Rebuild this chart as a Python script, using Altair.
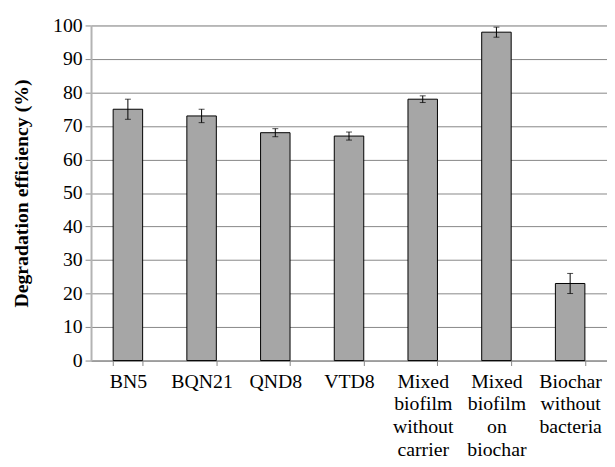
import altair as alt
import pandas as pd

categories = ["BN5", "BQN21", "QND8", "VTD8",
              "Mixed biofilm without carrier",
              "Mixed biofilm on biochar",
              "Biochar without bacteria"]
efficiency = [75, 73, 68, 67, 78, 98, 23]
errors = [3.0, 2.0, 1.2, 1.2, 1.0, 1.5, 3.0]
y_ticks = [0, 10, 20, 30, 40, 50, 60, 70, 80, 90, 100]

df = pd.DataFrame({
    "cat": categories,
    "val": efficiency,
    "lo": [v - e for v, e in zip(efficiency, errors)],
    "hi": [v + e for v, e in zip(efficiency, errors)],
})

FONT = "Liberation Serif, Times New Roman, serif"

x_axis = alt.Axis(title=None, labelAngle=0, labelFont=FONT, labelFontSize=20,
                  labelColor="black", labelExpr="split(datum.label, ' ')",
                  labelLineHeight=23, labelBaseline="top",
                  labelPadding=6, tickBand="extent", tickSize=5,
                  tickColor="#878787", domainColor="#878787",
                  domainWidth=1, grid=False)
y_axis = alt.Axis(values=y_ticks, tickCount=11, labelOverlap=False,
                  title="Degradation efficiency (%)",
                  titleFont=FONT, titleFontSize=20, titleFontWeight="bold",
                  titleColor="black", titlePadding=21,
                  labelFont=FONT, labelFontSize=20, labelColor="black",
                  labelPadding=3, tickSize=6, tickColor="#878787",
                  domainColor="#b3b3b3", domainWidth=2,
                  grid=True, gridColor="#878787", gridWidth=1)
x_scale = alt.Scale(paddingInner=0.6, paddingOuter=0.3)
y_scale = alt.Scale(domain=[0, 100], nice=False)

x_enc = alt.X("cat:N", sort=categories, scale=x_scale, axis=x_axis)

bars = alt.Chart(df).mark_bar(color="#a6a6a6", stroke="black", strokeWidth=1).encode(
    x=x_enc, y=alt.Y("val:Q", scale=y_scale, axis=y_axis))
rules = alt.Chart(df).mark_rule(color="black", strokeWidth=1).encode(
    x=x_enc, y=alt.Y("lo:Q", scale=y_scale, axis=y_axis), y2="hi:Q")
caps_lo = alt.Chart(df).mark_tick(color="black", thickness=1, size=6).encode(
    x=x_enc, y=alt.Y("lo:Q", scale=y_scale, axis=y_axis))
caps_hi = alt.Chart(df).mark_tick(color="black", thickness=1, size=6).encode(
    x=x_enc, y=alt.Y("hi:Q", scale=y_scale, axis=y_axis))

chart = alt.layer(bars, rules, caps_lo, caps_hi).properties(
    width=522, height=339,
    autosize=alt.AutoSizeParams(type="none"),
    padding={"left": 84, "top": 15, "right": 0, "bottom": 104},
).configure_view(stroke=None).configure(background="white", font=FONT)

chart.save("out.html", embed_options={"renderer": "svg", "actions": False})
